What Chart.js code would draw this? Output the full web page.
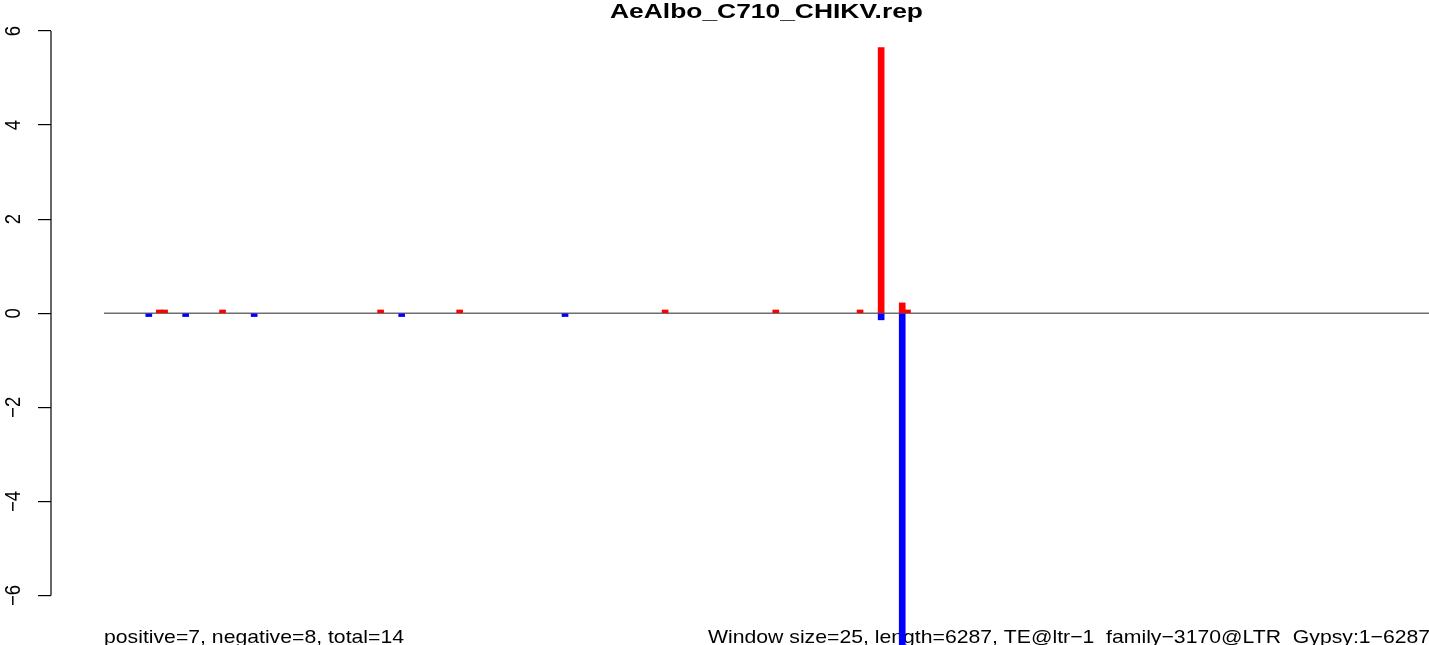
<!DOCTYPE html>
<html>
<head>
<meta charset="utf-8">
<script src="https://cdn.jsdelivr.net/npm/chart.js@4.4.1/dist/chart.umd.min.js"></script>
<style>
html,body{margin:0;padding:0;background:#fff;overflow:hidden;}
#wrap{width:1429px;height:645px;position:relative;}
</style>
</head>
<body>
<div id="wrap"><canvas id="c" width="1429" height="645"></canvas></div>
<script>
// ---- data ----
const chartTitle = "AeAlbo_C710_CHIKV.rep";
const windowSize = 25;
const seqLength = 6287;
const posWindows = [10, 11, 22, 52, 67, 106, 127, 143, 147, 151, 152];
const posValues  = [0.07, 0.07, 0.07, 0.07, 0.07, 0.07, 0.07, 0.07, 5.65, 0.22, 0.07];
const negWindows = [8, 15, 28, 56, 87, 147, 151];
const negValues  = [-0.07, -0.07, -0.07, -0.07, -0.07, -0.14, -7.5];
const yTickValues = [-6, -4, -2, 0, 2, 4, 6];
const yTickLabels = ["\u22126", "\u22124", "\u22122", "0", "2", "4", "6"];
const noteLeft  = "positive=7, negative=8, total=14";
const noteRight = "Window size=25, length=6287, TE@ltr\u22121_family\u22123170@LTR_Gypsy:1\u22126287";

const nWin = seqLength / windowSize;
const FONT = '"Liberation Sans", Arial, Helvetica, sans-serif';

function stretchText(ctx, text, x, y, font, targetW, align, sxFixed) {
  ctx.save();
  ctx.font = font;
  const w = ctx.measureText(text).width;
  const sx = sxFixed || (targetW / w);
  ctx.translate(x, y);
  ctx.scale(sx, 1);
  ctx.textAlign = align;
  ctx.textBaseline = 'alphabetic';
  ctx.fillStyle = '#000';
  ctx.fillText(text, 0, 0);
  ctx.restore();
  return sx;
}

const rPlugin = {
  id: 'rstyle',
  beforeDatasetsDraw(chart) {
    const ctx = chart.ctx, xs = chart.scales.x, ys = chart.scales.y;
    // zero line
    ctx.save();
    ctx.strokeStyle = '#6e6e6e';
    ctx.lineWidth = 1.3;
    ctx.beginPath();
    const y0 = ys.getPixelForValue(0);
    ctx.moveTo(xs.getPixelForValue(0), y0);
    ctx.lineTo(xs.getPixelForValue(nWin), y0);
    ctx.stroke();
    ctx.restore();
    // bottom notes
    const sx = stretchText(ctx, noteLeft, xs.getPixelForValue(0), 643, '19px ' + FONT, 300, 'left');
    stretchText(ctx, noteRight, 708, 643, '19px ' + FONT, 0, 'left', sx);
  },
  afterDraw(chart) {
    const ctx = chart.ctx, ys = chart.scales.y, area = chart.chartArea;
    // axis line
    ctx.save();
    ctx.strokeStyle = '#000';
    ctx.lineWidth = 1.2;
    ctx.beginPath();
    ctx.moveTo(area.left, ys.getPixelForValue(yTickValues[yTickValues.length - 1]));
    ctx.lineTo(area.left, ys.getPixelForValue(yTickValues[0]));
    ctx.stroke();
    ctx.restore();
    // rotated tick labels
    ctx.save();
    ctx.font = '18.5px ' + FONT;
    ctx.fillStyle = '#000';
    yTickValues.forEach((v, i) => {
      ctx.save();
      ctx.translate(20, ys.getPixelForValue(v));
      ctx.rotate(-Math.PI / 2);
      ctx.scale(1, 1.15);
      ctx.textAlign = 'center';
      ctx.textBaseline = 'alphabetic';
      ctx.fillText(yTickLabels[i], 0, 0);
      ctx.restore();
    });
    ctx.restore();
    // title
    stretchText(ctx, chartTitle, 766.5, 18, 'bold 21px ' + FONT, 313, 'center');
  }
};

new Chart(document.getElementById('c'), {
  type: 'bar',
  data: {
    datasets: [
      {
        label: 'positive',
        data: posWindows.map((w, i) => ({ x: w + 0.5, y: posValues[i] })),
        backgroundColor: '#ff0000',
        borderWidth: 0,
        barThickness: 6,
        grouped: false
      },
      {
        label: 'negative',
        data: negWindows.map((w, i) => ({ x: w + 0.5, y: negValues[i] })),
        backgroundColor: '#0000ff',
        borderWidth: 0,
        barThickness: 6,
        grouped: false
      }
    ]
  },
  options: {
    responsive: false,
    animation: false,
    devicePixelRatio: 1,
    layout: { padding: { top: 31, bottom: 0, left: 0, right: 0 } },
    plugins: { legend: { display: false }, title: { display: false }, tooltip: { enabled: false } },
    scales: {
      x: {
        type: 'linear',
        display: false,
        offset: false,
        min: -0.04 * nWin,
        max: nWin
      },
      y: {
        type: 'linear',
        min: -7.052,
        max: 6,
        afterBuildTicks: (s) => { s.ticks = yTickValues.map(v => ({ value: v })); },
        afterFit: (s) => { s.width = 51; },
        ticks: { display: false },
        border: { display: false },
        grid: { drawOnChartArea: false, drawTicks: true, tickLength: 13, color: '#000', lineWidth: 1.2 }
      }
    }
  },
  plugins: [rPlugin]
});
</script>
</body>
</html>
